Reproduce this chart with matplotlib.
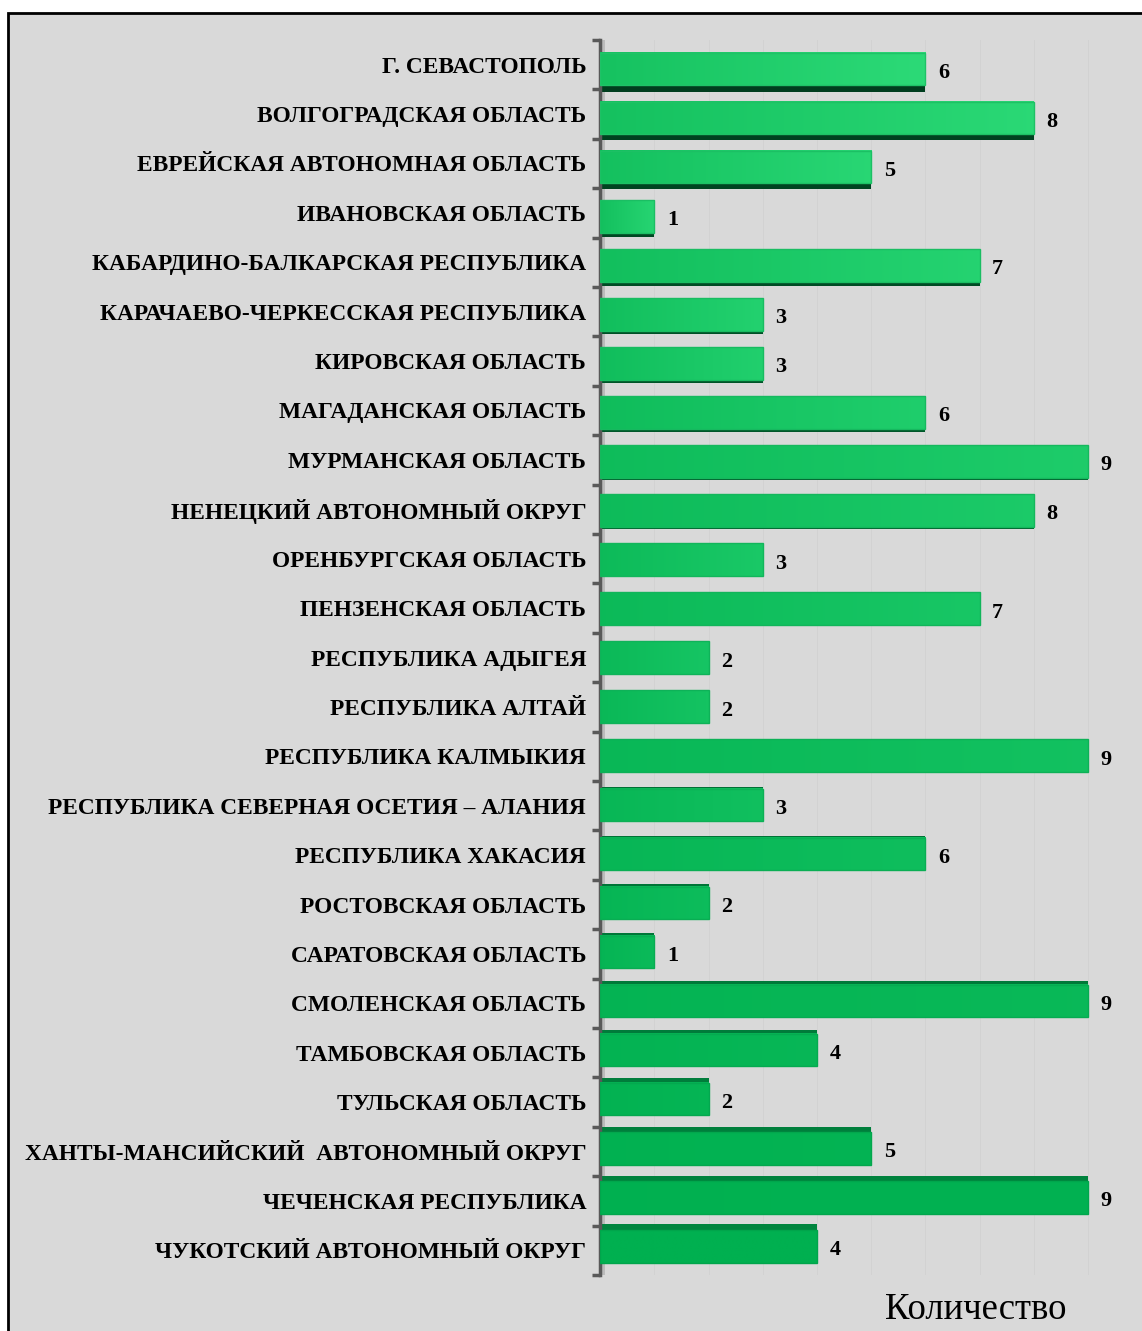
import numpy as np
import matplotlib
matplotlib.use("Agg")
import matplotlib.pyplot as plt
from matplotlib.patches import Rectangle
from matplotlib.colors import to_rgb

regions = [
    "Г. СЕВАСТОПОЛЬ",
    "ВОЛГОГРАДСКАЯ ОБЛАСТЬ",
    "ЕВРЕЙСКАЯ АВТОНОМНАЯ ОБЛАСТЬ",
    "ИВАНОВСКАЯ ОБЛАСТЬ",
    "КАБАРДИНО-БАЛКАРСКАЯ РЕСПУБЛИКА",
    "КАРАЧАЕВО-ЧЕРКЕССКАЯ РЕСПУБЛИКА",
    "КИРОВСКАЯ ОБЛАСТЬ",
    "МАГАДАНСКАЯ ОБЛАСТЬ",
    "МУРМАНСКАЯ ОБЛАСТЬ",
    "НЕНЕЦКИЙ АВТОНОМНЫЙ ОКРУГ",
    "ОРЕНБУРГСКАЯ ОБЛАСТЬ",
    "ПЕНЗЕНСКАЯ ОБЛАСТЬ",
    "РЕСПУБЛИКА АДЫГЕЯ",
    "РЕСПУБЛИКА АЛТАЙ",
    "РЕСПУБЛИКА КАЛМЫКИЯ",
    "РЕСПУБЛИКА СЕВЕРНАЯ ОСЕТИЯ – АЛАНИЯ",
    "РЕСПУБЛИКА ХАКАСИЯ",
    "РОСТОВСКАЯ ОБЛАСТЬ",
    "САРАТОВСКАЯ ОБЛАСТЬ",
    "СМОЛЕНСКАЯ ОБЛАСТЬ",
    "ТАМБОВСКАЯ ОБЛАСТЬ",
    "ТУЛЬСКАЯ ОБЛАСТЬ",
    "ХАНТЫ-МАНСИЙСКИЙ  АВТОНОМНЫЙ ОКРУГ",
    "ЧЕЧЕНСКАЯ РЕСПУБЛИКА",
    "ЧУКОТСКИЙ АВТОНОМНЫЙ ОКРУГ",
]
values = [6, 8, 5, 1, 7, 3, 3, 6, 9, 8, 3, 7, 2, 2, 9, 3, 6, 2, 1, 9, 4, 2, 5, 9, 4]

serif = ["Liberation Serif", "DejaVu Serif"]


def mix(c1, c2, t):
    a, b = np.array(to_rgb(c1)), np.array(to_rgb(c2))
    return tuple(a + (b - a) * t)


fig = plt.figure(figsize=(11.42, 13.31), dpi=100)
fig.patch.set_facecolor("white")
fig.add_artist(Rectangle((8 / 1142, -0.02), 1.05, 1.02 - 13 / 1331,
                         transform=fig.transFigure, facecolor="#d9d9d9",
                         edgecolor="black", linewidth=2, zorder=-10))

ax = fig.add_axes([0.5255, 0.042, 0.451, 0.928])
ax.set_facecolor("none")

n = len(values)
mid = 12.5
front_h = 0.66

# faint wall on the right of the axis
ax.axvspan(0, 0.09, color="#a8a8a8", alpha=0.6, lw=0, zorder=0)

for i, v in enumerate(values):
    t = i / (n - 1)
    left_c = mix("#16c260", "#00b050", t)
    right_c = mix("#2cda77", "#00b050", t)
    k = (mid - i) / mid          # +1 at the top, -1 at the bottom
    yc = i + 0.09 * k            # front face pulled toward the middle
    d = 0.13 * abs(k)            # visible depth face
    f0, f1 = yc - front_h / 2, yc + front_h / 2
    if k > 0:
        face = (f1, f1 + d)
        face_c = mix("#003d1e", "#006a32", 1 - abs(k))
    else:
        face = (f0 - d, f0)
        face_c = mix("#00863f", "#006a32", 1 - abs(k))
    ax.barh((face[0] + face[1]) / 2, v, height=d, color=face_c, lw=0, zorder=2)
    # front face with horizontal gradient
    grad = np.linspace(0, 1, 64)[None, :, None]
    img = np.array(left_c)[None, None, :] * (1 - grad) + np.array(right_c)[None, None, :] * grad
    ax.imshow(img, extent=(0, v, f1, f0), aspect="auto",
              interpolation="bilinear", zorder=3)
    ax.add_patch(Rectangle((0, f0), v, f1 - f0, fill=False,
                           edgecolor=mix(right_c, "#008a40", 0.3), lw=1, zorder=4))
    ax.text(v + 0.23, yc + 0.08, str(v), ha="left", va="center",
            fontsize=16, fontweight="bold", family=serif, color="black")

for x in range(1, 10):
    ax.axvline(x, color="#d2d2d2", lw=0.7, zorder=1)

ax.set_xlim(0, 9.5)
ax.set_ylim(n - 0.5, -0.5)
ax.set_yticks(range(n))
ax.set_yticklabels(regions, fontsize=16.8, fontweight="bold", family=serif)
ax.set_yticks(np.arange(-0.5, n, 1), minor=True)
ax.tick_params(axis="y", which="major", length=0, pad=10)
ax.tick_params(axis="y", which="minor", length=6, width=2.5, color="#595959")
ax.set_xticks([])
for s in ["top", "right", "bottom"]:
    ax.spines[s].set_visible(False)
ax.spines["left"].set_color("#595959")
ax.spines["left"].set_linewidth(2.5)

fig.text(885 / 1142, 1 - 1310 / 1331, "Количество", fontsize=26.5,
         family=serif, ha="left", va="center")

fig.savefig("out.png", dpi=100)
